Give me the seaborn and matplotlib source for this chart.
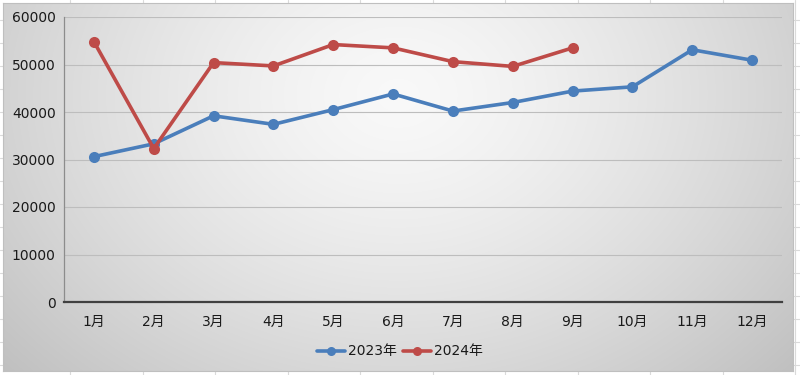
import matplotlib
matplotlib.use('Agg')

import matplotlib.pyplot as plt
import seaborn as sns
import numpy as np
import pandas as pd

months = ['1月', '2月', '3月', '4月', '5月', '6月', '7月', '8月', '9月', '10月', '11月', '12月']
sales_2023 = [30600, 33300, 39200, 37400, 40500, 43800, 40200, 42000, 44400, 45300, 53100, 50900]
sales_2024 = [54800, 32300, 50400, 49700, 54200, 53500, 50600, 49600, 53500]
series_names = ['2023年', '2024年']
y_ticks = [0, 10000, 20000, 30000, 40000, 50000, 60000]

BLUE = '#4A7EBB'
RED = '#BE4B48'

sns.set_style('white')
plt.rcParams['font.family'] = ['DejaVu Sans', 'Noto Sans CJK SC']

W, H = 800, 375
fig = plt.figure(figsize=(W / 100, H / 100), dpi=100, facecolor='white')

# spreadsheet cell lines behind the chart
for gx in np.arange(70, W, 72.5):
    fig.add_artist(plt.Line2D([gx / W, gx / W], [0, 1], color='#dadada', lw=0.8, zorder=0))
for gy in np.arange(20, H, 23):
    fig.add_artist(plt.Line2D([0, 1], [1 - gy / H, 1 - gy / H], color='#dadada', lw=0.8, zorder=0))

# chart area with radial gradient
cx0, cy0, cx1, cy1 = 3, 3, 793, 371
bg = fig.add_axes([cx0 / W, 1 - cy1 / H, (cx1 - cx0) / W, (cy1 - cy0) / H], zorder=1)
gw, gh = cx1 - cx0, cy1 - cy0
xx, yy = np.meshgrid(np.linspace(0, 1, gw), np.linspace(0, 1, gh))
dist = np.sqrt(((xx - 0.5) / 0.6) ** 2 + ((yy - 0.25) / 1.0) ** 2)
shade = 0.975 - 0.19 * np.clip(dist, 0, 1.3) ** 1.4
img = np.dstack([shade, shade, shade])
bg.imshow(img, aspect='auto', extent=[0, 1, 0, 1], interpolation='bilinear')
bg.set_xticks([])
bg.set_yticks([])
for s in bg.spines.values():
    s.set_color('#bfbfbf')
    s.set_linewidth(0.8)

# plot area
ax = fig.add_axes([64 / W, 1 - 302 / H, (782 - 64) / W, (302 - 17) / H], zorder=2)
ax.set_facecolor('none')

df = pd.DataFrame({
    'month': list(range(len(sales_2023))) + list(range(len(sales_2024))),
    'value': sales_2023 + sales_2024,
    'series': [series_names[0]] * len(sales_2023) + [series_names[1]] * len(sales_2024),
})

sns.lineplot(data=df, x='month', y='value', hue='series', palette=[BLUE, RED],
             marker='o', markersize=8, markeredgewidth=0, linewidth=2.6,
             ax=ax, legend=True, zorder=3)

ax.set_xlim(-0.5, len(months) - 0.5)
ax.set_ylim(0, 60000)
ax.set_yticks(y_ticks)
ax.set_yticklabels([str(t) for t in y_ticks])
ax.set_xticks(range(len(months)))
ax.set_xticklabels(months)
ax.set_xlabel('')
ax.set_ylabel('')
ax.tick_params(axis='both', length=0, labelsize=10, colors='#1a1a1a')
ax.tick_params(axis='x', pad=9)
ax.tick_params(axis='y', pad=6)
ax.grid(axis='y', color='#bdbdbd', lw=0.8)
ax.grid(axis='x', visible=False)
ax.set_axisbelow(True)

for name in ['top', 'right']:
    ax.spines[name].set_visible(False)
ax.spines['left'].set_color('#8c8c8c')
ax.spines['left'].set_linewidth(0.9)
ax.spines['bottom'].set_color('#404040')
ax.spines['bottom'].set_linewidth(1.6)

leg = ax.legend(loc='upper center', bbox_to_anchor=(0.468, -0.105), ncol=2, frameon=False,
                fontsize=10, handlelength=2.0, handletextpad=0.2, columnspacing=0.5)
for line in leg.get_lines():
    line.set_markersize(6.5)
for t in leg.get_texts():
    t.set_color('#1a1a1a')

fig.savefig('out.png', dpi=100, facecolor='white')
